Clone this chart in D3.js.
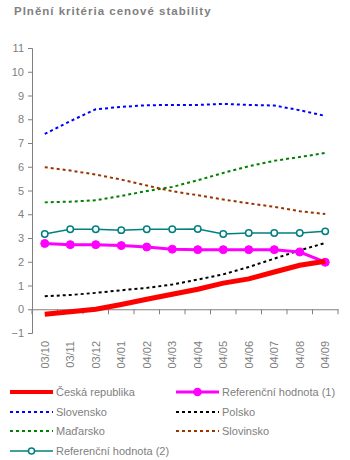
<!DOCTYPE html>
<html><head><meta charset="utf-8">
<script src="https://cdn.jsdelivr.net/npm/d3@7"></script>
<style>body{margin:0;background:#fff}svg{display:block}text{font-family:"Liberation Sans",Arial,sans-serif}</style>
</head><body><svg id="c" width="350" height="460"></svg>
<script>
const categories = ["03/10","03/11","03/12","04/01","04/02","04/03","04/04","04/05","04/06","04/07","04/08","04/09"];
const ceskaRepublika = [-0.21,-0.11,0.0,0.2,0.42,0.63,0.84,1.1,1.28,1.57,1.85,2.02];
const referencni1 = [2.77,2.72,2.72,2.68,2.62,2.53,2.51,2.51,2.51,2.51,2.41,1.98];
const slovensko = [7.38,7.92,8.42,8.52,8.59,8.6,8.6,8.65,8.6,8.58,8.38,8.14];
const polsko = [0.55,0.6,0.69,0.8,0.9,1.04,1.25,1.47,1.78,2.13,2.48,2.79];
const madarsko = [4.5,4.53,4.59,4.77,4.98,5.15,5.43,5.74,6.02,6.25,6.41,6.58];
const slovinsko = [5.98,5.84,5.67,5.46,5.21,4.97,4.8,4.62,4.46,4.31,4.13,4.01];
const referencni2 = [3.17,3.37,3.37,3.33,3.37,3.37,3.38,3.17,3.21,3.21,3.21,3.28];
const yTicks = [-1,0,1,2,3,4,5,6,7,8,9,10,11];

const series = [
  {name:"Česká republika", values:ceskaRepublika, color:"#ff0000", width:5, dash:null, marker:null},
  {name:"Referenční hodnota (1)", values:referencni1, color:"#ff00ff", width:3, dash:null, marker:"filled"},
  {name:"Slovensko", values:slovensko, color:"#0000ff", width:2, dash:"3,3", marker:null},
  {name:"Polsko", values:polsko, color:"#000000", width:2, dash:"3,3", marker:null},
  {name:"Maďarsko", values:madarsko, color:"#008000", width:2, dash:"3,3", marker:null},
  {name:"Slovinsko", values:slovinsko, color:"#993300", width:2, dash:"3,3", marker:null},
  {name:"Referenční hodnota (2)", values:referencni2, color:"#008080", width:1.5, dash:null, marker:"open"}
];

const svg = d3.select("#c");
const gray = "#808080";
const x = d3.scaleBand().domain(categories).range([32,338]);
const y = d3.scaleLinear().domain([-1,11]).range([333,48]);
const cx = c => x(c) + x.bandwidth()/2;

svg.append("text").attr("x",14).attr("y",15).attr("fill",gray)
  .attr("font-size",11.5).attr("font-weight","bold").attr("letter-spacing",1)
  .text("Plnění kritéria cenové stability");

// Y axis
const ya = svg.append("g").attr("transform","translate(32,0)")
  .call(d3.axisLeft(y).tickValues(yTicks).tickSize(4).tickPadding(4).tickFormat(d3.format("d")));
ya.select(".domain").attr("stroke",gray);
ya.selectAll(".tick line").attr("stroke",gray);
ya.selectAll(".tick text").attr("fill",gray).attr("font-size",11).attr("font-family","Liberation Sans, Arial, sans-serif");

// X axis at y=0
const xa = svg.append("g").attr("transform",`translate(0,${y(0)})`)
  .call(d3.axisBottom(x).tickSize(0).tickFormat(""));
xa.select(".domain").attr("stroke",gray);
const bounds = categories.map(c => x(c)).concat([x.range()[1]]);
xa.selectAll(".sep").data(bounds).enter().append("line")
  .attr("x1",d=>d).attr("x2",d=>d).attr("y1",0).attr("y2",5).attr("stroke",gray);

// X labels rotated
svg.append("g").selectAll("text").data(categories).enter().append("text")
  .attr("transform",d=>`translate(${cx(d)+4},341) rotate(-90)`)
  .attr("text-anchor","end").attr("fill",gray).attr("font-size",11).text(d=>d);

const line = d3.line().x((d,i)=>cx(categories[i])).y(d=>y(d));
const plot = svg.append("g");
const order = [2,4,5,3,6,1,0];
order.forEach(k => {
  const s = series[k];
  plot.append("path").attr("d",line(s.values)).attr("fill","none")
    .attr("stroke",s.color).attr("stroke-width",s.width)
    .attr("stroke-dasharray",s.dash);
  if (s.marker) {
    plot.selectAll(null).data(s.values).enter().append("circle")
      .attr("cx",(d,i)=>cx(categories[i])).attr("cy",d=>y(d))
      .attr("r", s.marker==="filled"?4:3.2)
      .attr("fill", s.marker==="filled"?s.color:"#fff")
      .attr("stroke",s.color).attr("stroke-width", s.marker==="filled"?1:1.5);
  }
});

// Legend
const leg = svg.append("g");
const pos = [[10,392],[176,392],[10,412],[176,412],[10,431],[176,431],[10,451]];
series.forEach((s,i) => {
  const [lx,ly] = pos[i];
  leg.append("line").attr("x1",lx).attr("x2",lx+43).attr("y1",ly).attr("y2",ly)
    .attr("stroke",s.color).attr("stroke-width",s.width===5?4:s.width).attr("stroke-dasharray",s.dash);
  if (s.marker) {
    leg.append("circle").attr("cx",lx+21.5).attr("cy",ly)
      .attr("r", s.marker==="filled"?3.5:3)
      .attr("fill", s.marker==="filled"?s.color:"#fff")
      .attr("stroke",s.color).attr("stroke-width",1.5);
  }
  leg.append("text").attr("x",lx+46).attr("y",ly+4).attr("fill",gray)
    .attr("font-size",11).text(s.name);
});
</script></body></html>
